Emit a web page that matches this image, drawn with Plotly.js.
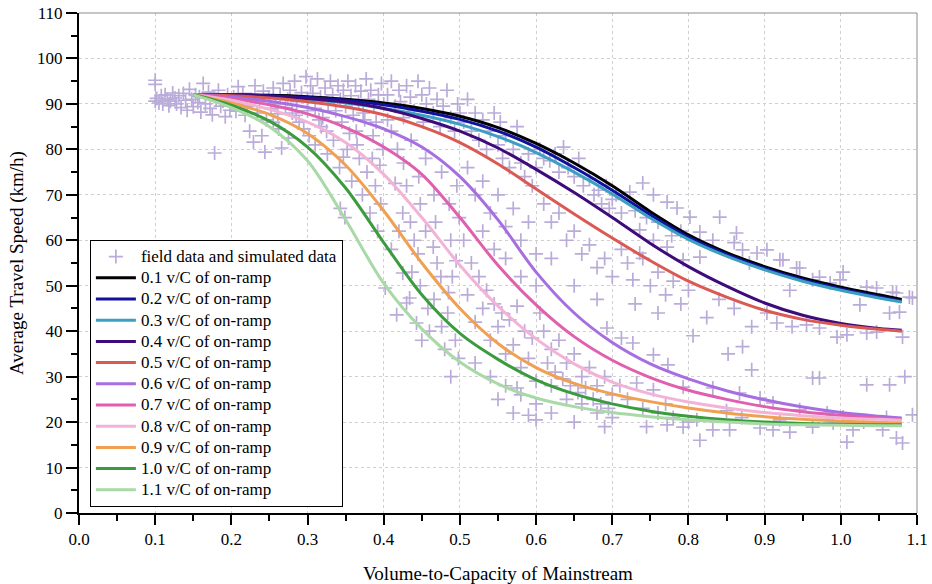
<!DOCTYPE html>
<html>
<head>
<meta charset="utf-8">
<script src="https://cdn.plot.ly/plotly-3.0.1.min.js"></script>
<style>html,body{margin:0;padding:0;background:#fff;}#chart{width:932px;height:584px;}</style>
</head>
<body>
<div id="chart"></div>
<script>
// ---- data ----
const vcGrid = [0.15,0.2,0.25,0.3,0.35,0.4,0.45,0.5,0.55,0.6,0.65,0.7,0.75,0.8,0.85,0.9,0.95,1.0,1.05,1.08];

const speed01 = [92,92,91.9,91.6,91.0,90.2,89.0,87.3,84.8,81.3,77.0,72.0,66.3,61.2,57.3,54.2,51.7,49.7,48.0,47.0];
const speed02 = [92,92,91.8,91.4,90.8,89.8,88.4,86.6,84.0,80.5,76.0,71.0,65.6,60.7,56.9,53.8,51.3,49.3,47.6,46.6];
const speed03 = [92,91.9,91.6,91.0,90.2,89.0,87.5,85.5,82.8,79.3,75.0,70.2,64.9,60.2,56.5,53.5,51.0,49.0,47.3,46.4];
const speed04 = [92,92,91.7,91.2,90.4,89.0,86.8,84.0,80.3,75.6,70.5,65.0,59.3,54.2,49.9,46.2,43.5,41.7,40.6,40.2];
const speed05 = [92,91.8,91.3,90.5,89.3,87.6,85.0,81.5,76.8,71.3,65.8,60.5,55.5,51.0,47.5,44.6,42.6,41.3,40.4,40.0];
const speed06 = [92,91.5,90.6,89.2,87.2,84.5,80.5,74.0,64.5,53.0,44.0,37.5,32.8,29.5,26.9,24.9,23.3,22.1,21.3,20.9];
const speed07 = [92,91.2,89.8,87.8,84.8,80.5,74.5,65.0,54.5,45.8,38.8,33.6,29.8,27.0,25.0,23.4,22.3,21.5,20.9,20.6];
const speed08 = [92,90.8,88.8,86.0,81.5,74.5,65.0,54.5,45.5,38.3,32.8,28.8,26.2,24.4,23.1,22.1,21.4,20.9,20.6,20.4];
const speed09 = [92,90.2,87.7,83.5,76.5,66.5,55.0,45.0,37.3,32.0,28.5,26.2,24.5,23.1,22.0,21.2,20.6,20.2,19.9,19.8];
const speed10 = [92,89.7,86.2,80.5,71.5,59.5,48.0,39.5,33.8,29.3,26.2,24.0,22.4,21.3,20.5,20.0,19.7,19.5,19.4,19.4];
const speed11 = [92,89.2,85.0,77.5,64.5,50.5,40.5,33.2,28.4,25.3,23.4,22.1,21.2,20.5,20.0,19.6,19.4,19.3,19.2,19.2];

const scatterName = "field data and simulated data";
const seriesNames = ["0.1 v/C of on-ramp","0.2 v/C of on-ramp","0.3 v/C of on-ramp","0.4 v/C of on-ramp","0.5 v/C of on-ramp","0.6 v/C of on-ramp","0.7 v/C of on-ramp","0.8 v/C of on-ramp","0.9 v/C of on-ramp","1.0 v/C of on-ramp","1.1 v/C of on-ramp"];
const seriesColors = ["#000000","#10129e","#3b9fc2","#3d0c7a","#db5953","#a66ee0","#e05fae","#f2b3d7","#f0a052","#3a9c3c","#a9d9a6"];

// field data and simulated data: [v/C, speed]
const fieldData = [
[0.100,95.2],[0.100,94.3],[0.100,90.6],[0.102,91.2],[0.105,90.2],[0.108,91.8],[0.110,90.0],[0.113,92.0],[0.116,91.0],[0.118,89.6],[0.120,90.6],[0.123,92.4],[0.126,91.3],[0.128,90.0],[0.131,91.8],[0.134,89.2],[0.137,92.3],[0.140,90.8],[0.142,88.6],[0.145,93.2],[0.148,91.0],[0.150,89.4],[0.153,92.0],[0.156,90.3],[0.158,91.6],[0.160,88.2],[0.163,94.5],[0.166,90.0],[0.178,79.2],[0.170,92.6],[0.172,89.0],[0.175,87.6],[0.180,91.0],[0.183,93.0],[0.186,89.5],[0.189,90.6],[0.192,87.2],[0.195,92.0],[0.198,88.6],[0.200,90.8],
[0.203,91.5],[0.206,88.4],[0.209,93.8],[0.212,90.0],[0.215,92.3],[0.218,87.5],[0.221,89.5],[0.224,84.0],[0.226,91.0],[0.229,81.6],[0.231,94.0],[0.234,88.0],[0.237,90.5],[0.240,83.0],[0.242,92.8],[0.244,79.4],[0.246,86.5],[0.249,91.5],[0.252,89.0],[0.255,93.5],[0.258,90.0],[0.261,87.8],[0.264,92.0],[0.266,80.3],[0.268,94.5],[0.271,89.2],[0.274,91.0],[0.277,93.0],[0.280,88.0],[0.283,95.0],[0.286,90.5],[0.289,86.0],[0.292,92.5],[0.295,84.5],[0.298,96.0],[0.300,91.0],[0.300,88.5],
[0.304,94.0],[0.307,92.3],[0.310,89.0],[0.313,95.5],[0.317,91.5],[0.320,87.0],[0.323,93.5],[0.327,90.0],[0.330,95.0],[0.333,92.0],[0.337,88.5],[0.340,94.0],[0.343,91.0],[0.347,93.0],[0.350,89.5],[0.353,95.0],[0.357,91.8],[0.360,87.5],[0.363,94.0],[0.367,90.5],[0.370,92.8],[0.373,88.0],[0.377,95.5],[0.380,91.0],[0.383,93.0],[0.387,89.5],[0.390,86.0],[0.393,92.0],[0.397,94.5],[0.400,90.0],
[0.302,83.0],[0.310,81.0],[0.318,85.0],[0.326,79.0],[0.334,82.0],[0.342,76.0],[0.347,78.3],[0.352,80.0],[0.358,73.0],[0.364,84.0],[0.368,78.0],[0.372,70.0],[0.378,75.0],[0.382,66.0],[0.386,83.0],[0.389,72.0],[0.392,62.0],[0.396,68.0],[0.399,80.0],
[0.343,67.0],[0.349,65.0],[0.402,49.5],[0.417,43.6],[0.430,46.2],[0.434,47.3],[0.450,38.0],[0.443,41.8],[0.425,52.8],[0.437,53.0],
[0.405,92.0],[0.410,95.0],[0.415,89.5],[0.420,93.0],[0.422,90.5],[0.426,87.0],[0.430,94.0],[0.435,91.5],[0.440,88.5],[0.445,95.0],[0.450,92.0],[0.452,86.0],[0.456,90.0],[0.460,93.5],[0.465,88.0],[0.470,91.0],[0.474,85.0],[0.478,89.5],[0.483,93.0],[0.488,87.0],[0.493,84.0],[0.497,90.0],[0.500,88.0],
[0.410,84.0],[0.418,80.0],[0.426,77.0],[0.436,82.0],[0.446,74.0],[0.455,78.0],[0.466,70.0],[0.476,75.0],[0.486,68.0],[0.496,72.0],[0.430,72.0],[0.448,68.0],[0.468,64.0],[0.488,60.0],[0.499,65.0],
[0.410,58.0],[0.420,62.0],[0.440,60.0],[0.448,50.0],[0.458,45.0],[0.466,47.0],[0.470,55.0],[0.476,41.0],[0.484,44.0],[0.490,52.0],[0.494,38.0],[0.460,40.0],[0.480,36.0],[0.498,34.0],[0.488,30.0],
[0.505,86.0],[0.510,91.0],[0.515,84.0],[0.520,88.0],[0.525,82.0],[0.530,86.5],[0.535,80.0],[0.540,84.0],[0.545,88.0],[0.550,81.0],[0.553,86.0],[0.556,78.0],[0.560,83.0],[0.565,76.0],[0.570,80.0],[0.575,85.0],[0.580,77.0],[0.585,74.0],[0.590,79.0],[0.595,72.0],[0.600,76.0],
[0.510,76.0],[0.520,70.0],[0.530,73.0],[0.540,66.0],[0.550,70.0],[0.560,63.0],[0.570,67.0],[0.580,60.0],[0.590,64.0],[0.600,57.0],[0.530,62.0],[0.560,56.0],[0.580,52.0],[0.600,50.0],[0.545,58.0],
[0.510,48.0],[0.520,42.0],[0.530,45.0],[0.540,38.0],[0.550,41.0],[0.560,35.0],[0.570,37.0],[0.580,32.0],[0.590,34.0],[0.600,29.0],[0.520,33.0],[0.540,30.0],[0.560,28.0],[0.580,26.0],[0.600,24.0],[0.550,25.0],[0.570,22.0],[0.590,21.5],
[0.605,80.0],[0.610,78.0],[0.618,77.5],[0.625,79.0],[0.630,75.0],[0.636,80.5],[0.642,76.0],[0.650,74.0],[0.656,78.0],[0.662,72.0],[0.670,73.5],[0.676,70.0],[0.682,71.0],[0.686,68.0],[0.692,72.0],[0.696,67.0],[0.700,69.0],
[0.610,68.0],[0.620,64.0],[0.630,66.0],[0.640,60.0],[0.650,62.0],[0.660,57.0],[0.670,59.0],[0.680,54.0],[0.690,56.0],[0.700,52.0],[0.620,56.0],[0.650,50.0],[0.680,47.0],[0.693,40.7],
[0.610,40.0],[0.620,36.0],[0.630,38.0],[0.640,33.0],[0.650,35.0],[0.660,30.0],[0.670,32.0],[0.680,28.0],[0.690,30.0],[0.700,26.0],[0.620,28.0],[0.640,25.0],[0.660,24.0],[0.680,22.0],[0.700,21.0],[0.650,20.0],[0.690,19.0],
[0.705,70.0],[0.712,66.0],[0.723,70.6],[0.730,66.5],[0.740,72.6],[0.745,65.0],[0.754,70.0],[0.760,64.0],[0.772,68.4],[0.778,61.0],[0.785,67.1],[0.790,62.0],[0.802,65.1],[0.736,62.3],[0.754,60.0],[0.772,58.5],[0.793,55.7],[0.815,56.3],[0.736,57.2],
[0.712,58.0],[0.720,55.0],[0.727,51.3],[0.740,56.0],[0.750,50.0],[0.760,53.0],[0.770,48.0],[0.780,51.0],[0.790,46.0],[0.800,49.0],[0.730,46.0],[0.712,38.5],[0.727,37.4],[0.754,34.8],[0.773,32.6],[0.760,44.0],
[0.710,28.0],[0.720,25.0],[0.732,28.6],[0.740,23.0],[0.754,27.1],[0.760,22.0],[0.772,19.4],[0.780,21.0],[0.793,18.9],[0.800,20.0],[0.745,19.0],[0.770,24.0],[0.793,27.7],
[0.815,61.8],[0.832,60.0],[0.841,65.1],[0.863,61.6],[0.871,57.9],[0.890,57.2],[0.903,57.9],[0.920,55.7],[0.924,55.7],[0.942,53.9],[0.946,53.9],[0.963,51.3],[0.972,51.9],[0.986,50.6],[0.999,51.3],[1.003,53.0],[1.034,49.7],[1.047,49.5],[1.068,48.6],[1.073,48.4],[1.090,47.5],[1.094,47.3],[0.933,49.0],[1.025,45.8],[0.860,59.5],[0.880,55.0],
[0.806,39.0],[0.824,43.0],[0.852,35.0],[0.871,36.6],[0.883,41.0],[0.883,31.5],[0.903,44.0],[0.916,41.8],[0.936,41.0],[0.955,41.4],[0.972,40.7],[0.995,38.7],[1.008,39.2],[1.034,39.6],[1.047,39.8],[1.064,44.0],[1.077,44.2],[1.081,38.7],[0.963,29.7],[0.972,29.7],[1.034,28.2],[1.064,28.2],[1.084,30.0],[0.840,47.0],[0.860,45.0],
[0.811,20.5],[0.815,16.0],[0.832,18.3],[0.832,27.5],[0.854,18.3],[0.867,26.4],[0.894,18.7],[0.894,25.3],[0.911,18.3],[0.911,24.2],[0.933,17.8],[0.946,22.7],[0.963,18.9],[0.982,22.0],[0.990,19.8],[1.003,21.1],[1.008,15.6],[1.016,18.3],[1.055,18.3],[1.073,16.5],[1.081,15.4],[1.094,21.6],[0.850,22.5],[0.870,21.0],[0.920,20.5],[1.030,20.0],[1.060,21.0],
[0.255,86.0],[0.262,84.5],[0.275,82.5],[0.285,87.5],[0.315,86.5],[0.325,84.0],[0.345,86.0],[0.355,83.5],[0.365,81.0],[0.375,86.5],[0.385,78.0],[0.395,76.5],[0.405,86.5],[0.415,72.5],[0.425,66.0],[0.435,64.0],[0.445,57.0],[0.455,62.0],[0.465,58.5],[0.475,52.0],[0.485,48.5],[0.495,55.5],[0.505,60.0],[0.515,55.0],[0.525,52.0],[0.535,49.0],[0.545,46.0],[0.555,44.0],[0.565,42.5],[0.575,45.5],[0.585,40.0],[0.595,38.5],[0.605,44.0],[0.615,33.0],[0.625,31.0],[0.635,29.5],[0.645,28.0],[0.655,26.5],[0.665,27.5],[0.675,25.0],[0.685,24.0],[0.695,23.0],[0.620,22.0],[0.600,20.5],[0.575,27.5]
];

const xTickVals = [0,0.1,0.2,0.3,0.4,0.5,0.6,0.7,0.8,0.9,1.0,1.1];
const xTickText = ["0.0","0.1","0.2","0.3","0.4","0.5","0.6","0.7","0.8","0.9","1.0","1.1"];
const yTickVals = [0,10,20,30,40,50,60,70,80,90,100,110];

// ---- build traces ----
const allSpeeds = [speed01,speed02,speed03,speed04,speed05,speed06,speed07,speed08,speed09,speed10,speed11];
const FONT = "Liberation Serif, 'Times New Roman', serif";
const legendLabel = t => '<span style="font-size:17px">' + t + '</span>';

const traces = [{
  type: "scatter", mode: "markers",
  name: legendLabel(scatterName),
  x: fieldData.map(p => p[0]), y: fieldData.map(p => p[1]),
  marker: {symbol: "cross-thin-open", size: 10, color: "#b9acd9", line: {color: "#b9acd9", width: 1.7}},
  hoverinfo: "skip"
}];
allSpeeds.forEach((s, i) => {
  traces.push({
    type: "scatter", mode: "lines", name: legendLabel(seriesNames[i]),
    x: vcGrid, y: s,
    line: {color: seriesColors[i], width: 3, shape: "spline", smoothing: 0.9}
  });
});

const layout = {
  width: 932, height: 584,
  margin: {l: 79, r: 15, t: 13, b: 71, pad: 0},
  paper_bgcolor: "#ffffff", plot_bgcolor: "#ffffff",
  font: {family: FONT, size: 17, color: "#000"},
  showlegend: true,
  legend: {
    x: 0.013, y: 0.546, xanchor: "left", yanchor: "top",
    bgcolor: "#ffffff", bordercolor: "#000000", borderwidth: 1,
    font: {family: FONT, size: 14, color: "#000"},
    itemwidth: 40, tracegroupgap: 0
  },
  xaxis: {
    range: [0, 1.1], tickvals: xTickVals, ticktext: xTickText,
    ticks: "outside", ticklen: 10, tickwidth: 2, tickcolor: "#000",
    showline: true, linecolor: "#000", linewidth: 2, mirror: false,
    showgrid: true, gridcolor: "#d0d0d0", griddash: "dot", gridwidth: 1,
    zeroline: false, tickfont: {family: FONT, size: 17},
    minor: {dtick: 0.05, ticks: "outside", ticklen: 6, tickwidth: 2, tickcolor: "#000", showgrid: false},
    title: {text: "Volume-to-Capacity of Mainstream", font: {family: FONT, size: 19}, standoff: 22},
    automargin: false
  },
  yaxis: {
    range: [0, 110], tickvals: yTickVals,
    ticks: "outside", ticklen: 11, tickwidth: 2, tickcolor: "#000",
    showline: true, linecolor: "#000", linewidth: 2, mirror: false,
    showgrid: true, gridcolor: "#d0d0d0", griddash: "dot", gridwidth: 1,
    zeroline: false, tickfont: {family: FONT, size: 17},
    minor: {dtick: 5, ticks: "outside", ticklen: 6, tickwidth: 2, tickcolor: "#000", showgrid: false},
    title: {text: "Average Travel Speed (km/h)", font: {family: FONT, size: 19}, standoff: 8},
    automargin: false
  },
  shapes: [
    {type: "line", xref: "paper", yref: "paper", x0: 0, x1: 1, y0: 1, y1: 1, line: {color: "#8a8a8a", width: 1}},
    {type: "line", xref: "paper", yref: "paper", x0: 1, x1: 1, y0: 0, y1: 1, line: {color: "#8a8a8a", width: 1}}
  ]
};

Plotly.newPlot("chart", traces, layout, {displayModeBar: false, staticPlot: true});
</script>
</body>
</html>
